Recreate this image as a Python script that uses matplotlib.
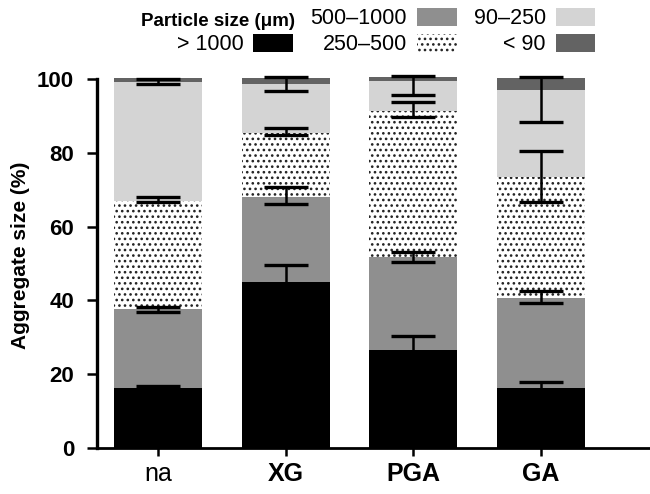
import matplotlib
matplotlib.use("Agg")
import matplotlib.pyplot as plt
from matplotlib.patches import Patch
import numpy as np

plt.rcParams['font.family'] = ['Liberation Sans', 'DejaVu Sans']
plt.rcParams['hatch.linewidth'] = 1.1

groups = ['na', 'XG', 'PGA', 'GA']
series = ['> 1000', '500–1000', '250–500', '90–250', '< 90']

# segment values (%)
v_gt1000 = [16.2, 45.1, 26.6, 16.2]
v_500_1000 = [21.4, 23.0, 25.2, 24.5]
v_250_500 = [29.4, 17.4, 39.5, 32.8]
v_90_250 = [32.3, 13.1, 8.2, 23.5]
v_lt90 = [1.0, 1.7, 1.0, 3.3]

# error bars (lower, upper)
e_gt1000_lo = [0.7, 4.5, 3.8, 1.6]
e_gt1000_hi = [0.7, 4.5, 3.8, 1.6]
e_500_1000_lo = [0.8, 2.0, 1.5, 1.5]
e_500_1000_hi = [0.7, 2.7, 1.4, 1.8]
e_250_500_lo = [0.4, 0.8, 1.5, 6.7]
e_250_500_hi = [1.1, 1.2, 2.6, 7.0]
e_90_250_lo = [0.7, 1.8, 3.9, 8.6]
e_90_250_hi = [0.7, 1.9, 1.3, 3.6]

values = [v_gt1000, v_500_1000, v_250_500, v_90_250, v_lt90]
errs = [(e_gt1000_lo, e_gt1000_hi), (e_500_1000_lo, e_500_1000_hi),
        (e_250_500_lo, e_250_500_hi), (e_90_250_lo, e_90_250_hi), None]
facecolors = ['#000000', '#8f8f8f', '#ffffff', '#d4d4d4', '#636363']
hatches = [None, None, '...', None, None]

fig = plt.figure(figsize=(6.5, 4.94), dpi=100)
ax = fig.add_axes([97/650, 46/494, 580/650, 369/494])

x = np.arange(len(groups))
width = 0.69
bottom = np.zeros(len(groups))
handles = []
tops_list = []
for vals, fc, h, lab in zip(values, facecolors, hatches, series):
    vals = np.array(vals)
    if h:
        bars = ax.bar(x, vals, width, bottom=bottom, color=fc, edgecolor='#222222',
                      linewidth=0, hatch=h, label=lab, zorder=2, clip_on=False)
    else:
        bars = ax.bar(x, vals, width, bottom=bottom, color=fc, linewidth=0,
                      label=lab, zorder=2, clip_on=False)
    handles.append(bars)
    bottom = bottom + vals
    tops_list.append(bottom.copy())

for tops, e in zip(tops_list, errs):
    if e is None:
        continue
    ax.errorbar(x, tops, yerr=[e[0], e[1]], fmt='none', ecolor='black',
                elinewidth=1.8, capsize=16, capthick=2.4, zorder=3, clip_on=False)

ax.set_xlim(-0.478, -0.478 + 580/127.6)
ax.set_ylim(0, 100)
ax.set_yticks([0, 20, 40, 60, 80, 100])
ax.set_xticks(x)
ax.set_xticklabels(groups, fontsize=18)
for lbl in ax.get_xticklabels():
    if lbl.get_text() != 'na':
        lbl.set_fontweight('bold')
for lbl in ax.get_yticklabels():
    lbl.set_fontweight('bold')
    lbl.set_fontsize(16)
ax.tick_params(axis='y', length=7.5, width=1.8, pad=9)
ax.tick_params(axis='x', length=6, width=1.8, pad=4)
for s in ['top', 'right']:
    ax.spines[s].set_visible(False)
ax.spines['left'].set_linewidth(2.4)
ax.spines['bottom'].set_linewidth(2.0)
ax.set_ylabel('Aggregate size (%)', fontsize=15, fontweight='bold')
ax.yaxis.set_label_coords(-0.122 * 553 / 580, 0.523)

blank = Patch(facecolor='none', edgecolor='none', label='')
leg_handles = [blank, handles[0], handles[1], handles[2], handles[3], handles[4]]
leg_labels = ['', series[0], series[1], series[2], series[3], series[4]]
fig.legend(leg_handles, leg_labels, ncol=3, loc='upper left',
           bbox_to_anchor=(177/650, 1 - 8/494), frameon=False, markerfirst=False,
           fontsize=15.5, handlelength=1.85, handleheight=0.9, handletextpad=0.45,
           columnspacing=0.8, labelspacing=0.22, borderpad=0, borderaxespad=0)
fig.text(295/650, 1 - 21/494, 'Particle size (μm)', ha='right', va='center',
         fontsize=13.5, fontweight='bold')

fig.savefig('out.png', dpi=100)
